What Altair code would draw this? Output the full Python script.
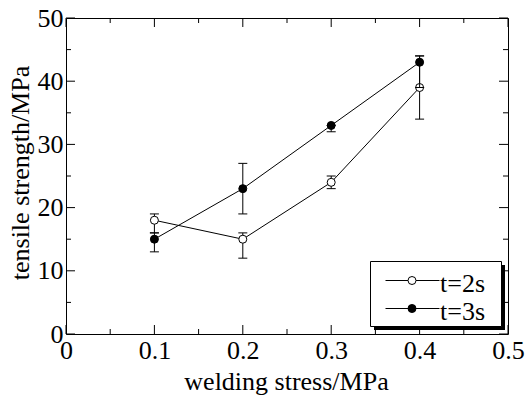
import altair as alt
import pandas as pd

# ---- data ----
stress = [0.1, 0.2, 0.3, 0.4]
t2_mean = [18, 15, 24, 39]
t2_low = [16, 12, 23, 34]
t2_high = [19, 16, 25, 44]
t3_mean = [15, 23, 33, 43]
t3_low = [13, 19, 32, 39]
t3_high = [16, 27, 33, 44]
series_labels = ["t=2s", "t=3s"]
x_major = [0, 0.1, 0.2, 0.3, 0.4, 0.5]
x_minor = [0.05, 0.15, 0.25, 0.35, 0.45]
y_major = [0, 10, 20, 30, 40, 50]
y_minor = [5, 15, 25, 35, 45]

W, H = 442, 316
FONT = "Liberation Serif, Times New Roman, Times, serif"
MAJ, MIN = 9, 5

xs = alt.Scale(domain=[0, 0.5], nice=False, zero=False)
ys = alt.Scale(domain=[0, 50], nice=False, zero=False)

xaxis = alt.Axis(
    values=x_major, title="welding stress/MPa",
    labelExpr="datum.value == 0 ? '0' : format(datum.value, '.1f')",
    ticks=False, tickSize=0, domain=False, grid=False,
    labelFont=FONT, labelFontSize=26, labelColor="black",
    labelPadding=24, labelBaseline="alphabetic",
    labelFlush=False, labelOverlap=False, labelBound=False,
    titleFont=FONT, titleFontSize=26, titleFontWeight="normal", titleColor="black",
    titleX=W / 2 - 1, titleY=55, titleAlign="center", titleBaseline="alphabetic",
)
yaxis = alt.Axis(
    values=y_major, title="tensile strength/MPa",
    labelExpr="format(datum.value, 'd')",
    ticks=False, tickSize=0, domain=False, grid=False,
    labelFont=FONT, labelFontSize=26, labelColor="black",
    labelPadding=3, labelBaseline="middle",
    labelFlush=False, labelOverlap=False, labelBound=False,
    titleFont=FONT, titleFontSize=26, titleFontWeight="normal", titleColor="black",
    titleAngle=270, titleX=-38, titleY=154.5, titleAlign="center", titleBaseline="alphabetic",
)


def XE(field):
    return alt.X(f"{field}:Q", scale=xs, axis=xaxis, title="welding stress/MPa")


def YE(field):
    return alt.Y(f"{field}:Q", scale=ys, axis=yaxis, title="tensile strength/MPa")


layers = []


def series(mean, low, high, fill):
    df = pd.DataFrame({"x": stress, "y": mean, "lo": low, "hi": high})
    base = alt.Chart(df)
    return [
        base.mark_line(color="black", strokeWidth=1).encode(x=XE("x"), y=YE("y")),
        base.mark_rule(color="black", strokeWidth=1).encode(
            x=XE("x"), y=YE("lo"), y2="hi:Q"),
        base.mark_tick(orient="horizontal", size=9, thickness=1, color="black", opacity=1).encode(
            x=XE("x"), y=YE("lo")),
        base.mark_tick(orient="horizontal", size=9, thickness=1, color="black", opacity=1).encode(
            x=XE("x"), y=YE("hi")),
        base.mark_point(shape="circle", filled=True, fill=fill, stroke="black",
                        strokeWidth=1, size=64, opacity=1).encode(x=XE("x"), y=YE("y")),
    ]


layers += series(t2_mean, t2_low, t2_high, "white")
layers += series(t3_mean, t3_low, t3_high, "black")

# inner tick marks on all four sides
for vals, ln in ((x_major, MAJ), (x_minor, MIN)):
    d = pd.DataFrame({"x": vals})
    layers.append(alt.Chart(d).mark_rule(color="black", strokeWidth=1).encode(
        x=XE("x"), y=alt.value(H), y2=alt.value(H - ln)))
    layers.append(alt.Chart(d).mark_rule(color="black", strokeWidth=1).encode(
        x=XE("x"), y=alt.value(0), y2=alt.value(ln)))
for vals, ln in ((y_major, MAJ), (y_minor, MIN)):
    d = pd.DataFrame({"y": vals})
    layers.append(alt.Chart(d).mark_rule(color="black", strokeWidth=1).encode(
        y=YE("y"), x=alt.value(0), x2=alt.value(ln)))
    layers.append(alt.Chart(d).mark_rule(color="black", strokeWidth=1).encode(
        y=YE("y"), x=alt.value(W), x2=alt.value(W - ln)))

# legend (drawn by hand, with drop shadow)
one = pd.DataFrame({"k": [0]})
BX0, BX1, BY0, BY1 = 304.5, 435.5, 243.5, 308.5
SH = 3.5
layers.append(alt.Chart(one).mark_rect(fill="black").encode(
    x=alt.value(BX0 + SH), x2=alt.value(BX1 + SH),
    y=alt.value(BY0 + SH), y2=alt.value(BY1 + SH)))
layers.append(alt.Chart(one).mark_rect(fill="white", stroke="black", strokeWidth=1).encode(
    x=alt.value(BX0), x2=alt.value(BX1), y=alt.value(BY0), y2=alt.value(BY1)))

entry_y = [262.5, 290.5]
fills = ["white", "black"]
for lab, yy, f in zip(series_labels, entry_y, fills):
    d = pd.DataFrame({"label": [lab]})
    layers.append(alt.Chart(d).mark_rule(color="black", strokeWidth=1).encode(
        x=alt.value(319.5), x2=alt.value(373.5), y=alt.value(yy)))
    layers.append(alt.Chart(d).mark_point(shape="circle", filled=True, fill=f, stroke="black",
                                          strokeWidth=1, size=64, opacity=1).encode(
        x=alt.value(346), y=alt.value(yy)))
    layers.append(alt.Chart(d).mark_text(align="left", baseline="middle", font=FONT,
                                         fontSize=26, color="black").encode(
        x=alt.value(374), y=alt.value(yy + 3), text="label:N"))

chart = alt.layer(*layers).properties(
    width=W, height=H,
    padding={"left": 66, "top": 18, "right": 21, "bottom": 64},
    autosize=alt.AutoSizeParams(type="none"),
    background="white",
).configure_view(stroke="black", strokeWidth=1).configure_axis(domain=False, grid=False)

chart.save("out.html", embed_options={"renderer": "svg", "actions": False})
